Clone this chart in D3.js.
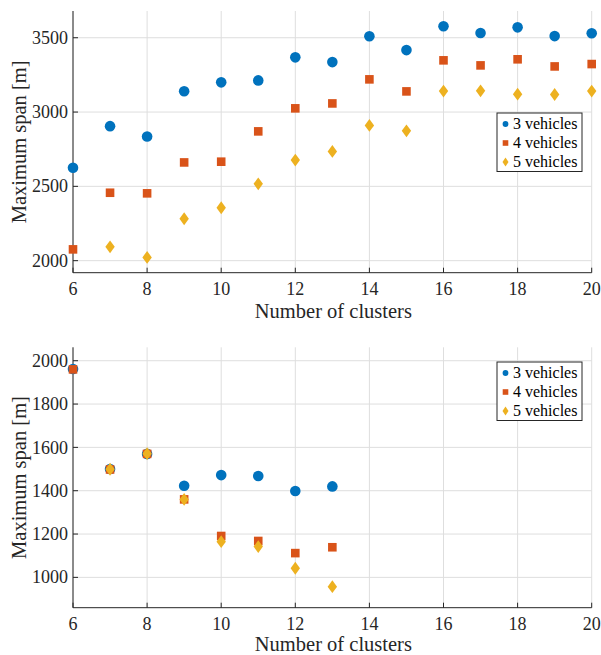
<!DOCTYPE html>
<html>
<head>
<meta charset="utf-8">
<script src="https://cdn.jsdelivr.net/npm/d3@7"></script>
<style>
  body { margin: 0; background: #fff; }
  svg { display: block; font-family: "Liberation Serif", "Times New Roman", serif; }
  .grid line { stroke: #dedede; stroke-width: 1; }
  .axis-line { stroke: #262626; stroke-width: 1; }
  .tick-mark { stroke: #262626; stroke-width: 1; }
  .tick-label { fill: #262626; font-size: 18px; }
  .axis-title { fill: #262626; font-size: 20.5px; }
  .legend text { fill: #000; font-size: 16px; }
</style>
</head>
<body>
<svg width="601" height="655"></svg>
<script>
// number of clusters (x categories)
const clustersTop    = [6, 7, 8, 9, 10, 11, 12, 13, 14, 15, 16, 17, 18, 19, 20];
const clustersBottom = [6, 7, 8, 9, 10, 11, 12, 13];

// top panel: maximum span [m]
const span3Top = [2625, 2905, 2835, 3140, 3200, 3213, 3368, 3336, 3510, 3417, 3577, 3532, 3570, 3511, 3530];
const span4Top = [2076, 2457, 2453, 2661, 2666, 2870, 3025, 3058, 3220, 3139, 3348, 3314, 3355, 3307, 3323];
const span5Top = [null, 2093, 2022, 2282, 2356, 2517, 2677, 2735, 2910, 2874, 3141, 3143, 3120, 3118, 3141];

// bottom panel: maximum span [m]
const span3Bottom = [1962, 1500, 1570, 1423, 1472, 1468, 1399, 1420];
const span4Bottom = [1960, 1498, 1570, 1360, 1191, 1168, 1112, 1139];
const span5Bottom = [null, 1499, 1571, 1360, 1165, 1142, 1042, 957];

const seriesNames = ["3 vehicles", "4 vehicles", "5 vehicles"];
const xTicks = [6, 8, 10, 12, 14, 16, 18, 20];
const yTicksTop = [2000, 2500, 3000, 3500];
const yTicksBottom = [1000, 1200, 1400, 1600, 1800, 2000];

const colors = ["#0072BD", "#D95319", "#EDB120"];

// matlab style diamond, a bit wider than d3's own
const diamond = (hw, hh) => ({
  draw(ctx) {
    ctx.moveTo(0, -hh); ctx.lineTo(hw, 0); ctx.lineTo(0, hh); ctx.lineTo(-hw, 0); ctx.closePath();
  }
});

const markerPath = [
  d3.symbol(d3.symbolCircle, Math.PI * 5.3 * 5.3)(),
  d3.symbol(d3.symbolSquare, 8.6 * 8.6)(),
  d3.symbol(diamond(4.7, 6.4))()
];
const legendPath = [
  d3.symbol(d3.symbolCircle, Math.PI * 2.9 * 2.9)(),
  d3.symbol(d3.symbolSquare, 5.6 * 5.6)(),
  d3.symbol(diamond(3, 4.6))()
];

const svg = d3.select("svg");

const drawPanel = (cfg) => {
  const { top, height, domain, yTicks, clusters, series, legendTop, titleGap } = cfg;
  const left = 73, right = 591.7;

  const x = d3.scaleLinear().domain([6, 20]).range([left, right]);
  const y = d3.scaleLinear().domain(domain).range([top + height, top]);

  const g = svg.append("g");

  // grid
  const grid = g.append("g").attr("class", "grid");
  grid.selectAll(".gx").data(xTicks).enter().append("line")
    .attr("x1", d => x(d)).attr("x2", d => x(d))
    .attr("y1", top).attr("y2", top + height);
  grid.selectAll(".gy").data(yTicks).enter().append("line")
    .attr("x1", left).attr("x2", right)
    .attr("y1", d => y(d)).attr("y2", d => y(d));

  // axes (left + bottom only, ticks point inward)
  g.append("line").attr("class", "axis-line")
    .attr("x1", left).attr("x2", left).attr("y1", top).attr("y2", top + height);
  g.append("line").attr("class", "axis-line")
    .attr("x1", left).attr("x2", right).attr("y1", top + height).attr("y2", top + height);

  g.selectAll(".xt").data(xTicks).enter().append("line").attr("class", "tick-mark")
    .attr("x1", d => x(d)).attr("x2", d => x(d))
    .attr("y1", top + height).attr("y2", top + height - 5);
  g.selectAll(".yt").data(yTicks).enter().append("line").attr("class", "tick-mark")
    .attr("x1", left).attr("x2", left + 5)
    .attr("y1", d => y(d)).attr("y2", d => y(d));

  g.selectAll(".xl").data(xTicks).enter().append("text").attr("class", "tick-label")
    .attr("x", d => x(d)).attr("y", top + height + 22)
    .attr("text-anchor", "middle")
    .text(d => d);
  g.selectAll(".yl").data(yTicks).enter().append("text").attr("class", "tick-label")
    .attr("x", left - 5).attr("y", d => y(d)).attr("dy", "0.34em")
    .attr("text-anchor", "end")
    .text(d => d);

  g.append("text").attr("class", "axis-title")
    .attr("x", (left + right) / 2 + 1).attr("y", top + height + titleGap)
    .attr("text-anchor", "middle")
    .text("Number of clusters");
  g.append("text").attr("class", "axis-title")
    .attr("transform", `translate(26, ${top + height / 2}) rotate(-90)`)
    .attr("text-anchor", "middle")
    .text("Maximum span [m]");

  // markers
  series.forEach((vals, s) => {
    const pts = clusters.map((c, i) => ({ c, v: vals[i] })).filter(d => d.v != null);
    g.append("g").selectAll("path").data(pts).enter().append("path")
      .attr("d", markerPath[s])
      .attr("fill", colors[s])
      .attr("transform", d => `translate(${x(d.c)}, ${y(d.v)})`);
  });

  // legend
  const lg = g.append("g").attr("class", "legend")
    .attr("transform", `translate(497, ${legendTop})`);
  lg.append("rect").attr("width", 85).attr("height", 58.5)
    .attr("fill", "#fff").attr("stroke", "#262626").attr("stroke-width", 1);
  seriesNames.forEach((name, s) => {
    const row = lg.append("g").attr("transform", `translate(0, ${11 + s * 19})`);
    row.append("path").attr("d", legendPath[s]).attr("fill", colors[s])
      .attr("transform", "translate(8.5, 0)");
    row.append("text").attr("x", 16).attr("dy", "0.33em").text(name);
  });
};

drawPanel({
  top: 11, height: 261.7, domain: [1919, 3680], yTicks: yTicksTop,
  clusters: clustersTop, series: [span3Top, span4Top, span5Top], legendTop: 113, titleGap: 45.5
});

drawPanel({
  top: 347.3, height: 260.4, domain: [860, 2062], yTicks: yTicksBottom,
  clusters: clustersBottom, series: [span3Bottom, span4Bottom, span5Bottom], legendTop: 362, titleGap: 43.5
});
</script>
</body>
</html>
